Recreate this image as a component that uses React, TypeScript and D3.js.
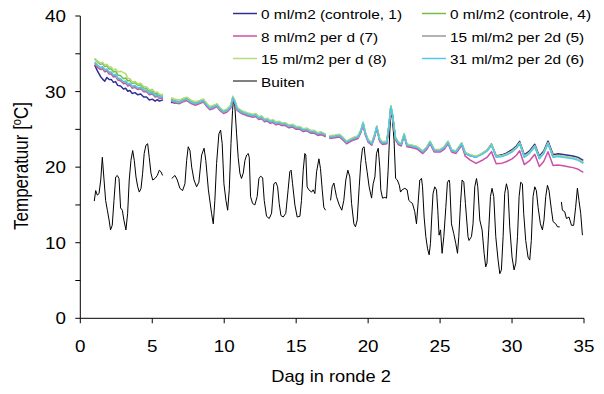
import React from "react";
import * as d3 from "d3";

// ---------- data ----------
const xTicks = [0, 5, 10, 15, 20, 25, 30, 35];
const yTicks = [0, 5, 10, 15, 20, 25, 30, 35, 40];
const yLabels = [0, 10, 20, 30, 40];

// outside temperature (day, °C); null = gap
const buiten: ([number, number] | null)[] = [
  [0.97,15.5],[1.07,16.9],[1.18,16.3],[1.3,16.5],[1.42,18.3],[1.53,21.3],[1.65,18.3],[1.76,15.6],[1.88,14.3],[2.0,13.0],[2.1,11.7],[2.22,12.3],[2.34,15.6],[2.46,18.7],[2.57,18.9],[2.69,18.5],[2.8,14.6],[2.92,14.3],[3.03,13.0],[3.17,11.7],[3.29,13.9],[3.4,18.3],[3.52,20.9],[3.64,22.2],[3.75,20.9],[3.87,18.7],[3.99,17.4],[4.1,16.7],[4.22,17.2],[4.33,19.2],[4.44,21.8],[4.56,22.9],[4.68,23.1],[4.79,21.3],[4.91,19.2],[5.03,18.3],[5.19,18.5],[5.35,18.9],[5.49,19.6],[5.6,19.4],[5.72,18.9],
  null,
  [6.35,18.5],[6.58,18.9],[6.74,18.3],[6.92,17.2],[7.11,16.9],[7.27,17.8],[7.39,20.9],[7.5,22.7],[7.62,22.2],[7.74,20.0],[7.9,18.3],[8.08,17.4],[8.24,18.0],[8.43,21.6],[8.6,22.5],[8.72,20.9],[8.9,17.0],[9.12,13.9],[9.24,12.5],[9.35,15.6],[9.47,20.5],[9.63,24.4],[9.75,24.9],[9.86,23.1],[9.98,17.8],[10.12,15.6],[10.24,14.3],[10.35,17.0],[10.47,23.1],[10.58,27.5],[10.65,29.1],[10.74,28.0],[10.86,24.4],[10.97,21.3],[11.09,19.2],[11.2,18.5],[11.32,19.2],[11.44,20.9],[11.56,21.6],[11.67,21.8],[11.74,21.3],[11.83,16.1],[11.97,15.2],[12.13,15.0],[12.29,16.1],[12.41,18.5],[12.53,18.8],[12.67,18.6],[12.78,15.6],[12.94,13.5],[13.13,13.2],[13.29,13.9],[13.45,17.8],[13.59,18.0],[13.71,17.4],[13.82,15.2],[13.94,13.6],[14.1,13.4],[14.28,13.9],[14.44,17.0],[14.56,19.4],[14.65,19.6],[14.75,17.8],[14.91,15.0],[15.07,13.4],[15.26,13.5],[15.37,15.6],[15.49,19.6],[15.6,21.8],[15.67,21.6],[15.76,17.4],[15.88,17.0],[16.07,16.7],[16.18,17.0],[16.3,16.5],[16.42,19.4],[16.58,21.1],[16.69,19.8],[16.81,17.0],[16.92,14.7],[17.04,14.3],
  null,
  [17.39,15.6],[17.5,17.4],[17.62,17.9],[17.71,17.0],[17.8,16.1],[17.99,15.0],[18.17,14.3],[18.31,15.6],[18.45,18.3],[18.59,19.6],[18.73,18.7],[18.85,15.2],[19.01,12.5],[19.12,12.1],[19.24,13.0],[19.38,17.4],[19.49,20.5],[19.61,22.5],[19.72,22.7],[19.82,20.9],[19.93,19.4],[20.07,17.4],[20.24,15.9],[20.35,17.8],[20.47,18.7],[20.58,21.8],[20.7,22.5],[20.81,20.0],[20.88,17.0],[21.0,15.9],[21.16,16.0],[21.28,15.9],[21.39,19.6],[21.51,24.9],[21.58,26.9],[21.67,26.6],[21.8,23.6],[21.91,18.5],[22.03,18.3],[22.17,17.6],[22.25,16.7],[22.36,17.0],[22.55,17.2],[22.71,17.0],[22.83,15.6],[22.94,15.4],[23.08,15.2],[23.24,14.1],[23.36,12.5],[23.47,15.2],[23.59,18.3],[23.71,18.5],[23.78,17.4],[23.89,13.4],[24.01,10.8],[24.13,9.2],[24.24,8.4],[24.33,9.9],[24.42,13.4],[24.51,16.5],[24.63,17.4],[24.75,17.0],[24.84,14.3],[24.93,11.0],[25.03,11.7],[25.14,8.6],[25.26,10.8],[25.4,14.7],[25.51,18.0],[25.63,18.3],[25.67,17.8],[25.79,12.5],[25.95,11.2],[26.09,9.9],[26.21,8.6],[26.3,10.8],[26.42,15.2],[26.53,18.3],[26.65,18.0],[26.76,15.2],[26.94,10.8],[27.01,10.3],[27.18,10.8],[27.29,12.5],[27.41,17.4],[27.53,18.5],[27.62,17.4],[27.76,13.0],[27.92,11.7],[28.06,8.6],[28.17,6.8],[28.26,7.3],[28.38,11.7],[28.5,16.1],[28.61,17.2],[28.73,16.1],[28.87,10.8],[29.03,7.7],[29.15,5.9],[29.26,6.4],[29.38,10.8],[29.49,16.5],[29.61,17.8],[29.72,16.9],[29.84,12.1],[30.0,8.1],[30.14,6.4],[30.26,7.3],[30.38,10.8],[30.49,16.1],[30.6,18.0],[30.72,17.8],[30.81,13.9],[30.95,10.3],[31.11,8.1],[31.23,7.7],[31.34,10.3],[31.46,16.1],[31.58,17.4],[31.69,16.9],[31.81,14.7],[31.97,12.5],[32.11,11.7],[32.22,13.0],[32.34,16.1],[32.46,17.6],[32.57,16.9],[32.74,14.3],[32.85,12.8],[33.04,12.5],[33.16,12.1],[33.31,12.1],
  null,
  [33.43,15.4],[33.5,14.3],[33.66,14.1],[33.78,13.2],[33.96,13.4],[34.13,12.3],[34.28,12.3],[34.42,14.7],[34.54,17.2],[34.65,15.6],[34.77,13.9],[34.89,11.0],
];

// common greenhouse trajectory (cyan series, day, °C); null = gap
const kasBasis: ([number, number] | null)[] = [
  [1.0,33.9],[1.2,33.5],[1.4,33.2],[1.55,33.3],[1.7,32.9],[1.85,33.0],[2.0,32.6],[2.15,32.6],[2.3,32.2],[2.45,32.3],[2.6,31.8],[2.8,31.7],[3.0,31.3],[3.15,31.4],[3.3,31.0],[3.45,31.1],[3.6,30.7],[3.8,30.8],[4.0,30.5],[4.2,30.6],[4.4,30.2],[4.6,30.2],[4.8,29.8],[5.0,29.9],[5.2,29.5],[5.35,29.6],[5.5,29.3],[5.75,29.3],
  null,
  [6.3,28.9],[6.6,28.7],[6.9,28.6],[7.2,28.9],[7.4,29.0],[7.7,28.6],[8.0,28.4],[8.3,28.6],[8.55,28.8],[8.8,28.2],[9.0,27.8],[9.3,28.0],[9.5,28.2],[9.7,27.7],[9.95,27.3],[10.2,27.5],[10.45,28.0],[10.6,29.2],[10.75,28.6],[10.9,27.7],[11.2,27.3],[11.6,27.0],[12.0,26.8],[12.2,26.9],[12.4,26.5],[12.6,26.6],[12.8,26.2],[13.0,26.3],[13.2,26.0],[13.4,26.1],[13.6,25.8],[13.8,25.9],[14.0,25.7],[14.25,25.7],[14.5,25.4],[14.75,25.5],[15.0,25.2],[15.25,25.2],[15.5,24.9],[15.75,25.0],[16.0,24.7],[16.25,24.7],[16.5,24.4],[16.75,24.5],[17.05,24.2],
  null,
  [17.3,24.0],[17.7,24.1],[18.0,24.2],[18.3,23.7],[18.5,23.3],[18.8,23.6],[19.0,23.8],[19.3,24.0],[19.5,24.8],[19.65,25.8],[19.8,24.5],[20.0,23.5],[20.25,23.1],[20.45,24.2],[20.6,25.3],[20.8,23.6],[21.0,23.2],[21.3,23.3],[21.45,25.5],[21.58,28.0],[21.7,26.8],[21.9,23.8],[22.1,23.2],[22.3,23.0],[22.5,24.3],[22.7,22.9],[23.0,22.8],[23.4,22.6],[23.8,22.0],[24.1,22.6],[24.3,23.3],[24.6,22.2],[25.0,22.2],[25.3,22.6],[25.55,23.3],[25.8,22.2],[26.1,22.0],[26.5,23.1],[26.75,21.8],[27.1,21.5],[27.5,21.3],[28.0,21.8],[28.3,22.2],[28.57,22.9],[28.9,21.3],[29.3,21.4],[29.6,21.6],[30.0,22.0],[30.3,22.5],[30.53,23.1],[30.85,21.3],[31.2,21.8],[31.58,22.7],[31.9,21.1],[32.2,21.8],[32.5,23.1],[32.85,21.3],[33.2,21.4],[33.55,21.3],[33.9,21.2],[34.24,21.1],[34.6,20.9],[34.95,20.5],
];

// per-series deviation from the common trajectory (day, °C)
const afwControle1: [number, number][] = [[1,-0.4],[1.4,-1.2],[1.6,-1.8],[1.9,-1.0],[5.0,-0.9],[5.75,-0.4],[6.3,-0.3],[7,-0.1],[27,0],[30,0.3],[35,0.4]];
const afwControle4: [number, number][] = [[1,0.4],[3.5,0.4],[5.75,0.1],[35,0.1]];
const afwPerD7: [number, number][] = [[1,-0.3],[6,-0.2],[26.5,-0.2],[27.5,-0.8],[30,-0.9],[33,-1.1],[35,-1.2]];
const afwPer2d5: [number, number][] = [[1,-0.1],[35,0.1]];
const afwPerD8: [number, number][] = [[1,0.5],[2.5,0.7],[3.0,1.2],[3.4,0.6],[5.75,0.3],[10,0.2],[35,0.1]];
const afwPer2d6: [number, number][] = [[1,0],[35,0]];

const seriesNames = [
  "0 ml/m2 (controle, 1)",
  "0 ml/m2 (controle, 4)",
  "8 ml/m2 per d (7)",
  "15 ml/m2 per 2d (5)",
  "15 ml/m2 per d (8)",
  "31 ml/m2 per 2d (6)",
  "Buiten",
];
const seriesColors = ["#2e3192", "#72bf44", "#cc4fa8", "#9a9a9a", "#b6d97a", "#4fc8ec", "#000000"];

// ---------- layout ----------
const W = 604, H = 394;
const x = d3.scaleLinear().domain([0, 35]).range([80.3, 584]);
const y = d3.scaleLinear().domain([0, 40]).range([318.3, 16]);
const SX = 1.14; // horizontal stretch of the original picture's text
const FONT = "'Liberation Sans', Arial, sans-serif";

function applyDev(base: ([number, number] | null)[], dev: [number, number][]) {
  const f = d3.scaleLinear().domain(dev.map((d) => d[0])).range(dev.map((d) => d[1])).clamp(true);
  return base.map((p) => (p ? ([p[0], p[1] + f(p[0])] as [number, number]) : null));
}

export default function App() {
  const line = d3
    .line<[number, number] | null>()
    .defined((d) => d !== null)
    .x((d) => x(d![0]))
    .y((d) => y(d![1]));

  const devs = [afwControle1, afwControle4, afwPerD7, afwPer2d5, afwPerD8, afwPer2d6];
  const kasSeries = devs.map((dv) => applyDev(kasBasis, dv));

  const legend = [
    { i: 0, col: 0, row: 0 },
    { i: 2, col: 0, row: 1 },
    { i: 4, col: 0, row: 2 },
    { i: 6, col: 0, row: 3 },
    { i: 1, col: 1, row: 0 },
    { i: 3, col: 1, row: 1 },
    { i: 5, col: 1, row: 2 },
  ];
  const colX = [233, 422];
  const rowY = [13.5, 36, 58.5, 81];

  return (
    <svg width={W} height={H} style={{ position: "absolute", left: 0, top: 0, background: "#fff" }} fontFamily={FONT}>
      <rect width={W} height={H} fill="#fff" />
      {/* data */}
      <path d={line(buiten) || ""} fill="none" stroke="#000" strokeWidth={1} />
      {kasSeries.map((s, k) => (
        <path key={k} d={line(s) || ""} fill="none" stroke={seriesColors[k]} strokeWidth={1.5} strokeLinejoin="round" />
      ))}

      {/* axes */}
      <line x1={x(0)} x2={x(0)} y1={y(40)} y2={y(0)} stroke="#000" strokeWidth={1} />
      <line x1={x(0)} x2={x(35)} y1={y(0)} y2={y(0)} stroke="#000" strokeWidth={1} />
      {yTicks.map((t) => (
        <line key={"yt" + t} x1={x(0) - 5} x2={x(0)} y1={y(t)} y2={y(t)} stroke="#000" />
      ))}
      {xTicks.map((t) => (
        <line key={"xt" + t} x1={x(t)} x2={x(t)} y1={y(0)} y2={y(0) + 5} stroke="#000" />
      ))}
      {yLabels.map((t) => (
        <text key={"yl" + t} transform={`translate(66,${y(t) + 6}) scale(${SX},1)`} textAnchor="end" fontSize={16.5} fill="#000">
          {t}
        </text>
      ))}
      {xTicks.map((t) => (
        <text key={"xl" + t} transform={`translate(${x(t)},352) scale(${SX},1)`} textAnchor="middle" fontSize={16.5} fill="#000">
          {t}
        </text>
      ))}
      <text transform={`translate(331,382) scale(${SX},1)`} textAnchor="middle" fontSize={16} fill="#000">
        Dag in ronde 2
      </text>
      <text transform={`translate(28,166) scale(${SX},1) rotate(-90)`} textAnchor="middle" fontSize={17} fill="#000">
        Temperatuur [<tspan fontSize={11} dy={-6}>o</tspan>
        <tspan dy={6}>C]</tspan>
      </text>

      {/* legend */}
      {legend.map((l) => (
        <g key={"lg" + l.i}>
          <line x1={colX[l.col]} x2={colX[l.col] + 24} y1={rowY[l.row]} y2={rowY[l.row]} stroke={seriesColors[l.i]} strokeWidth={l.i === 6 ? 1 : 1.5} />
          <text transform={`translate(${colX[l.col] + 28},${rowY[l.row] + 5.5}) scale(${SX},1)`} fontSize={13.5} fill="#000">
            {seriesNames[l.i]}
          </text>
        </g>
      ))}
    </svg>
  );
}
